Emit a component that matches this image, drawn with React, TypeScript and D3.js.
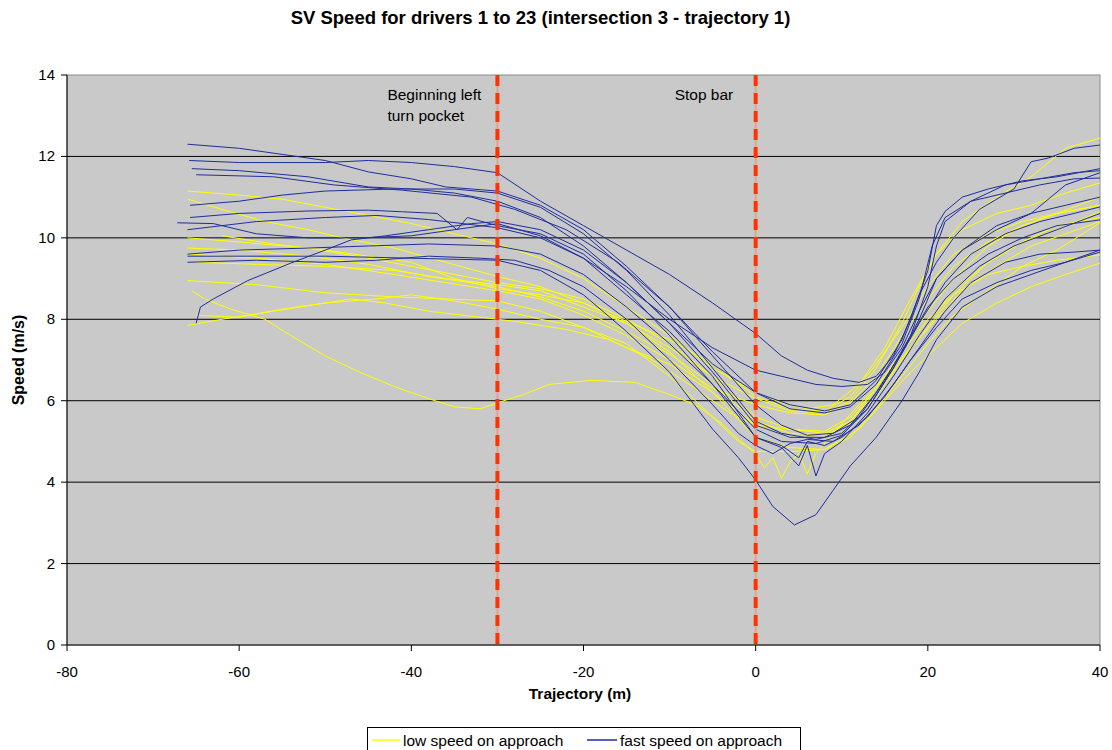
import React from "react";
import * as d3 from "d3";

type Pt = [number, number];

// Axis ticks
const X_TICKS = [-80, -60, -40, -20, 0, 20, 40];
const Y_TICKS = [0, 2, 4, 6, 8, 10, 12, 14];

// Reference positions along the trajectory (m)
const MARKERS = [
  { x: -30, lines: ["Beginning left", "turn pocket"], dx: -110 },
  { x: 0, lines: ["Stop bar"], dx: -81 },
];

// Low speed on approach drivers: [trajectory (m), speed (m/s)]
const low01: Pt[] = [[-66, 11.15], [-60, 11.05], [-55, 10.95], [-50, 10.75], [-45, 10.55], [-40, 10.35], [-35, 10.1], [-30, 9.85], [-25, 9.5], [-20, 9.0], [-15, 8.3], [-10, 7.6], [-5, 6.8], [0, 6.2], [3, 5.95], [6, 5.8], [9, 5.9], [12, 6.4], [15, 7.3], [18, 8.5], [21, 9.6], [24, 10.2], [28, 10.6], [32, 10.8], [36, 11.1], [40, 11.35]];
const low02: Pt[] = [[-66, 10.95], [-62, 10.7], [-57, 10.4], [-52, 10.2], [-48, 10.0], [-42, 9.75], [-36, 9.4], [-30, 9.05], [-25, 8.8], [-20, 8.4], [-15, 7.9], [-10, 7.3], [-5, 6.6], [0, 6.05], [4, 5.75], [8, 5.7], [11, 6.0], [14, 6.8], [17, 7.9], [19, 8.8], [21, 9.6], [24, 10.4], [28, 11.0], [32, 11.5], [36, 12.2], [40, 12.45]];
const low03: Pt[] = [[-66, 10.0], [-60, 9.9], [-52, 9.75], [-45, 9.5], [-40, 9.3], [-35, 9.1], [-30, 8.9], [-25, 8.75], [-20, 8.5], [-15, 8.0], [-10, 7.4], [-5, 6.6], [0, 5.6], [4, 5.3], [8, 5.2], [11, 5.5], [14, 6.3], [17, 7.2], [20, 8.2], [23, 9.0], [27, 9.8], [31, 10.3], [35, 10.6], [40, 11.0]];
const low04: Pt[] = [[-62, 10.05], [-56, 9.85], [-50, 9.7], [-45, 9.55], [-40, 9.4], [-35, 9.0], [-30, 8.75], [-25, 8.6], [-20, 8.4], [-15, 7.95], [-10, 7.5], [-5, 6.9], [0, 6.1], [4, 5.8], [8, 5.75], [11, 6.1], [14, 6.9], [17, 7.8], [20, 8.8], [23, 9.6], [27, 10.1], [31, 10.4], [35, 10.6], [40, 10.8]];
const low05: Pt[] = [[-65, 9.4], [-58, 9.35], [-50, 9.3], [-42, 9.2], [-36, 9.0], [-30, 8.85], [-25, 8.7], [-20, 8.3], [-15, 7.9], [-10, 7.2], [-5, 6.2], [0, 5.4], [4, 5.1], [8, 5.1], [11, 5.5], [14, 6.2], [17, 7.0], [20, 7.8], [23, 8.6], [27, 9.4], [31, 9.9], [35, 10.2], [40, 10.64]];
const low06: Pt[] = [[-66, 8.95], [-58, 8.85], [-50, 8.65], [-42, 8.55], [-36, 8.5], [-30, 8.45], [-25, 8.2], [-20, 7.8], [-15, 7.3], [-10, 6.9], [-5, 6.2], [0, 5.1], [4, 4.85], [8, 4.8], [11, 5.1], [14, 5.8], [17, 6.6], [20, 7.4], [23, 8.1], [27, 8.7], [31, 9.3], [35, 9.7], [40, 10.37]];
const low07: Pt[] = [[-66, 7.85], [-62, 8.0], [-56, 8.2], [-50, 8.4], [-44, 8.5], [-40, 8.6], [-35, 8.45], [-30, 8.25], [-25, 8.0], [-20, 7.8], [-15, 7.4], [-10, 6.6], [-5, 5.6], [-2, 5.0], [0, 4.75], [4, 4.75], [8, 4.8], [12, 5.3], [15, 6.0], [18, 6.7], [21, 7.3], [24, 7.9], [28, 8.4], [32, 8.8], [36, 9.1], [40, 9.38]];
const low08: Pt[] = [[-65, 8.1], [-60, 8.05], [-55, 8.25], [-50, 8.4], [-47, 8.5], [-43, 8.4], [-38, 8.2], [-32, 8.05], [-28, 7.95], [-22, 7.75], [-17, 7.5], [-12, 7.0], [-7, 6.3], [-3, 5.7], [0, 5.4], [4, 5.3], [8, 5.25], [11, 5.6], [14, 6.3], [17, 7.2], [20, 8.0], [23, 8.6], [27, 9.1], [31, 9.3], [35, 9.45], [40, 9.58]];
const low09: Pt[] = [[-65.5, 8.7], [-64, 8.5], [-61, 8.25], [-57, 8.0], [-54, 7.6], [-50, 7.1], [-46, 6.7], [-42, 6.35], [-38, 6.05], [-35, 5.85], [-32, 5.8], [-30, 5.95], [-27, 6.15], [-24, 6.4], [-19, 6.5], [-14, 6.45], [-10, 6.15], [-7, 5.9], [-4, 5.45], [-2, 5.05], [0, 4.7], [1, 4.35], [2, 4.6], [3, 4.1], [4, 4.5], [5, 4.7], [6, 4.2], [7, 4.7], [9, 5.2], [12, 5.9], [15, 6.6], [18, 7.3], [21, 8.0], [24, 8.7], [28, 9.3], [32, 9.8], [36, 10.1], [40, 10.4]];
const low10: Pt[] = [[-66, 9.6], [-58, 9.5], [-50, 9.35], [-42, 9.1], [-36, 8.9], [-30, 8.7], [-25, 8.5], [-20, 8.1], [-15, 7.6], [-10, 7.0], [-5, 6.3], [0, 5.9], [4, 5.7], [8, 5.65], [11, 5.95], [14, 6.6], [17, 7.6], [20, 8.5], [23, 9.3], [27, 9.9], [31, 10.3], [35, 10.6], [40, 10.8]];
const low11: Pt[] = [[-66, 9.75], [-60, 9.7], [-52, 9.55], [-45, 9.35], [-38, 9.05], [-30, 8.8], [-25, 8.55], [-20, 8.2], [-15, 7.7], [-10, 7.15], [-5, 6.4], [0, 5.5], [4, 5.2], [8, 5.15], [11, 5.45], [14, 6.1], [17, 7.0], [20, 7.9], [23, 8.7], [27, 9.4], [31, 9.9], [35, 10.3], [40, 10.5]];

// Fast speed on approach drivers
const fast01: Pt[] = [[-66, 12.3], [-60, 12.2], [-55, 12.05], [-50, 11.9], [-45, 11.62], [-40, 11.45], [-36, 11.25], [-30, 11.15], [-25, 10.8], [-20, 10.2], [-15, 9.3], [-10, 8.3], [-5, 7.1], [0, 5.9], [3, 5.4], [6, 5.15], [9, 5.2], [12, 5.6], [15, 6.5], [18, 7.6], [20, 8.8], [21, 9.8], [22, 10.4], [25, 10.9], [29, 11.3], [33, 11.45], [37, 11.6], [40, 11.65]];
const fast02: Pt[] = [[-65.8, 11.9], [-60, 11.85], [-50, 11.85], [-45, 11.9], [-40, 11.85], [-35, 11.75], [-30, 11.6], [-25, 10.9], [-20, 10.3], [-15, 9.7], [-10, 9.1], [-5, 8.4], [0, 7.65], [3, 7.1], [6, 6.75], [9, 6.55], [12, 6.45], [14, 6.6], [16, 7.1], [18, 8.0], [20, 9.2], [21, 10.3], [22, 10.65], [24, 11.0], [27, 11.2], [31, 11.4], [35, 11.5], [40, 11.7]];
const fast03: Pt[] = [[-65.5, 11.7], [-60, 11.65], [-52, 11.5], [-45, 11.25], [-40, 11.2], [-35, 11.1], [-30, 10.9], [-25, 10.5], [-20, 9.8], [-15, 8.9], [-10, 7.9], [-5, 6.9], [0, 6.2], [4, 5.9], [8, 5.75], [11, 5.9], [14, 6.5], [17, 7.5], [19, 8.6], [21, 9.4], [23, 10.0], [26, 10.7], [30, 11.2], [32, 11.87], [34, 11.96], [37, 12.2], [40, 12.28]];
const fast04: Pt[] = [[-65, 11.55], [-56, 11.5], [-49, 11.3], [-41, 11.17], [-33, 11.0], [-28, 10.7], [-22, 10.2], [-16, 9.4], [-10, 8.3], [-5, 7.2], [0, 6.2], [4, 5.8], [8, 5.7], [11, 5.85], [14, 6.4], [17, 7.4], [19, 8.5], [20.5, 9.8], [22, 10.5], [25, 10.9], [29, 11.1], [33, 11.3], [37, 11.45], [40, 11.47]];
const fast05: Pt[] = [[-65.7, 10.8], [-60, 10.9], [-55, 11.05], [-50, 11.15], [-42, 11.2], [-35, 11.2], [-30, 11.1], [-25, 10.75], [-20, 10.1], [-15, 9.2], [-10, 8.1], [-5, 6.8], [0, 5.5], [3, 5.2], [7, 5.05], [10, 5.2], [13, 5.8], [16, 6.8], [19, 8.0], [21, 9.0], [24, 9.7], [28, 10.2], [32, 10.6], [36, 11.3], [40, 11.6]];
const fast06: Pt[] = [[-65.7, 10.5], [-60, 10.6], [-52, 10.66], [-45, 10.68], [-41, 10.64], [-37, 10.6], [-34.7, 10.2], [-33.5, 10.5], [-30, 10.3], [-25, 10.1], [-20, 9.6], [-15, 8.7], [-10, 7.6], [-5, 6.4], [0, 5.3], [3, 5.0], [7, 4.95], [10, 5.15], [13, 5.8], [16, 6.8], [19, 7.9], [22, 8.9], [25, 9.6], [29, 10.1], [33, 10.4], [37, 10.6], [40, 10.76]];
const fast07: Pt[] = [[-67.2, 10.37], [-63, 10.35], [-58, 10.1], [-52, 10.0], [-46, 10.0], [-40, 10.05], [-35, 10.2], [-30, 10.35], [-25, 10.05], [-20, 9.5], [-15, 8.6], [-10, 7.7], [-5, 6.6], [0, 5.1], [3, 4.85], [5, 4.4], [6, 4.9], [7, 4.15], [8, 4.7], [10, 5.0], [13, 5.7], [16, 6.6], [19, 7.6], [22, 8.5], [26, 9.3], [30, 9.8], [35, 10.2], [40, 10.6]];
const fast08: Pt[] = [[-65, 7.9], [-64.5, 8.3], [-63, 8.5], [-59, 8.95], [-54, 9.38], [-50, 9.7], [-47, 9.95], [-43, 10.05], [-38, 10.2], [-33, 10.35], [-30, 10.4], [-25, 10.2], [-20, 9.7], [-15, 8.9], [-10, 7.9], [-5, 6.7], [0, 5.4], [4, 5.1], [8, 5.1], [11, 5.4], [14, 6.2], [17, 7.2], [20, 8.3], [23, 9.0], [27, 9.6], [31, 10.0], [35, 10.3], [40, 10.44]];
const fast09: Pt[] = [[-66, 9.6], [-60, 9.7], [-52, 9.75], [-45, 9.8], [-38, 9.85], [-30, 9.8], [-25, 9.6], [-20, 9.1], [-15, 8.3], [-10, 7.4], [-5, 6.4], [0, 5.1], [3, 4.9], [5, 4.6], [6, 5.0], [8, 4.9], [10, 5.1], [13, 5.6], [16, 6.4], [19, 7.3], [22, 8.2], [25, 8.9], [29, 9.4], [33, 9.6], [37, 9.65], [40, 9.7]];
const fast10: Pt[] = [[-66, 9.55], [-50, 9.55], [-40, 9.5], [-30, 9.45], [-25, 9.2], [-20, 8.6], [-15, 7.7], [-10, 6.7], [-5, 5.3], [-2, 4.6], [0, 4.05], [2, 3.4], [4.5, 2.95], [7, 3.2], [9, 3.8], [11, 4.4], [14, 5.1], [17, 6.0], [19, 6.7], [21, 7.5], [24, 8.3], [28, 8.8], [32, 9.1], [36, 9.4], [40, 9.7]];
const fast11: Pt[] = [[-66, 10.2], [-58, 10.4], [-50, 10.5], [-44, 10.55], [-38, 10.45], [-30, 10.25], [-25, 10.0], [-20, 9.5], [-15, 8.8], [-10, 8.0], [-5, 7.3], [0, 6.75], [3, 6.6], [7, 6.4], [10, 6.35], [13, 6.4], [15, 6.7], [17, 7.3], [19, 8.2], [21, 9.0], [24, 9.7], [28, 10.3], [32, 10.6], [36, 10.8], [40, 11.0]];
const fast12: Pt[] = [[-66, 9.4], [-58, 9.45], [-50, 9.4], [-44, 9.45], [-38, 9.55], [-32, 9.5], [-28, 9.45], [-24, 9.2], [-20, 8.8], [-15, 8.0], [-10, 7.0], [-5, 5.9], [-2, 5.2], [0, 4.9], [2, 4.7], [4, 4.95], [6, 5.05], [9, 5.0], [12, 5.4], [15, 6.1], [18, 7.0], [21, 7.8], [24, 8.5], [28, 8.9], [32, 9.2], [36, 9.4], [40, 9.65]];

const LOW_SERIES = [low01, low02, low03, low04, low05, low06, low07, low08, low09, low10, low11];
const FAST_SERIES = [fast01, fast02, fast03, fast04, fast05, fast06, fast07, fast08, fast09, fast10, fast11, fast12];

const LOW_COLOR = "#ffff00";
const FAST_COLOR = "#1f2e9c";
const FONT = "'Liberation Sans', Arial, sans-serif";

const W = 1112;
const H = 750;
const PLOT = { left: 67, right: 1100, top: 75, bottom: 645 };

export default function App() {
  const x = d3.scaleLinear().domain([-80, 40]).range([PLOT.left, PLOT.right]);
  const y = d3.scaleLinear().domain([0, 14]).range([PLOT.bottom, PLOT.top]);
  const line = d3
    .line<Pt>()
    .x((d) => x(d[0]))
    .y((d) => y(d[1]));

  return (
    <svg
      width={W}
      height={H}
      style={{ position: "absolute", left: 0, top: 0, background: "#ffffff" }}
      fontFamily={FONT}
    >
      <text x={540.5} y={24} textAnchor="middle" fontSize={18.5} fontWeight="bold">
        SV Speed for drivers 1 to 23 (intersection 3 - trajectory 1)
      </text>

      {/* plot area */}
      <rect
        x={PLOT.left}
        y={PLOT.top}
        width={PLOT.right - PLOT.left}
        height={PLOT.bottom - PLOT.top}
        fill="#c9c9c9"
        stroke="#8c8c8c"
        strokeWidth={1}
      />
      {Y_TICKS.filter((t) => t > 0 && t < 14).map((t) => (
        <line key={t} x1={PLOT.left} x2={PLOT.right} y1={y(t)} y2={y(t)} stroke="#000" strokeWidth={1} />
      ))}

      {/* driver traces */}
      <g fill="none" strokeWidth={1} strokeLinejoin="round">
        {LOW_SERIES.map((s, i) => (
          <path key={"l" + i} d={line(s) ?? ""} stroke={LOW_COLOR} />
        ))}
        {FAST_SERIES.map((s, i) => (
          <path key={"f" + i} d={line(s) ?? ""} stroke={FAST_COLOR} />
        ))}
      </g>

      {/* reference markers */}
      {MARKERS.map((m) => (
        <g key={m.x}>
          <line x1={x(m.x)} x2={x(m.x)} y1={PLOT.top} y2={PLOT.bottom} stroke="#e8a090" strokeWidth={2} />
          <line
            x1={x(m.x)}
            x2={x(m.x)}
            y1={PLOT.top}
            y2={PLOT.bottom}
            stroke="#ff3300"
            strokeWidth={4}
            strokeDasharray="11 7"
          />
          {m.lines.map((t, i) => (
            <text key={t} x={x(m.x) + m.dx} y={100 + i * 20.5} fontSize={15.5}>
              {t}
            </text>
          ))}
        </g>
      ))}

      {/* axes */}
      <line x1={PLOT.left} x2={PLOT.left} y1={PLOT.top} y2={PLOT.bottom} stroke="#000" />
      <line x1={PLOT.left} x2={PLOT.right} y1={PLOT.bottom} y2={PLOT.bottom} stroke="#000" />
      {Y_TICKS.map((t) => (
        <g key={t}>
          <line x1={PLOT.left - 6} x2={PLOT.left} y1={y(t)} y2={y(t)} stroke="#000" />
          <text x={PLOT.left - 12} y={y(t) + 5} textAnchor="end" fontSize={15}>
            {t}
          </text>
        </g>
      ))}
      {X_TICKS.map((t) => (
        <g key={t}>
          <line x1={x(t)} x2={x(t)} y1={PLOT.bottom} y2={PLOT.bottom + 6} stroke="#000" />
          <text x={x(t)} y={PLOT.bottom + 32} textAnchor="middle" fontSize={15}>
            {t}
          </text>
        </g>
      ))}

      <text x={580} y={699} textAnchor="middle" fontSize={15.5} fontWeight="bold">
        Trajectory (m)
      </text>
      <text
        transform={`translate(24,${(PLOT.top + PLOT.bottom) / 2}) rotate(-90)`}
        textAnchor="middle"
        fontSize={16}
        fontWeight="bold"
      >
        Speed (m/s)
      </text>

      {/* legend */}
      <rect x={367.5} y={727.5} width={433} height={30} fill="#fff" stroke="#000" />
      <line x1={372} x2={400} y1={740} y2={740} stroke={LOW_COLOR} strokeWidth={1.5} />
      <text x={403} y={746} fontSize={15.5}>
        low speed on approach
      </text>
      <line x1={587} x2={617} y1={740} y2={740} stroke={FAST_COLOR} strokeWidth={1.5} />
      <text x={620} y={746} fontSize={15.5}>
        fast speed on approach
      </text>
    </svg>
  );
}
